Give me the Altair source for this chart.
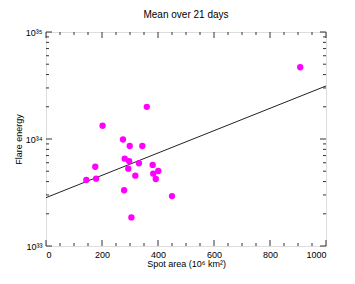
import altair as alt
import pandas as pd

# Data
spot_area = [360, 202, 275, 299, 344, 281, 297, 332, 381, 176, 294,
             401, 383, 319, 144, 179, 392, 279, 450, 305, 908]
flare_energy = [2.0e34, 1.33e34, 9.9e33, 8.6e33, 8.6e33, 6.55e33, 6.2e33,
                5.93e33, 5.72e33, 5.5e33, 5.28e33, 5.02e33, 4.74e33, 4.54e33,
                4.14e33, 4.26e33, 4.23e33, 3.32e33, 2.93e33, 1.85e33, 4.68e34]
fit_x = [0, 1000]
fit_y = [2.83e33, 3.13e34]

x_major = [0, 200, 400, 600, 800, 1000]
x_minor = [v for v in range(50, 1000, 50) if v % 200 != 0]
y_major = [1e33, 1e34, 1e35]
y_minor = [m * 1e33 for m in range(2, 10)] + [m * 1e34 for m in range(2, 10)]

pts = pd.DataFrame({"x": spot_area, "y": flare_energy})
fit = pd.DataFrame({"x": fit_x, "y": fit_y})

W, H = 280, 214
FONT = "Liberation Sans"
TICK = "#333"
xscale = alt.Scale(domain=[0, 1000], nice=False)
yscale = alt.Scale(type="log", domain=[1e33, 1e35], nice=False)

label_x = alt.Axis(orient="bottom", values=x_major, ticks=False, domain=False,
                   grid=False, labelFont=FONT, labelFontSize=9, labelColor="#000",
                   labelPadding=4, format="d", title="Spot area (10⁶ km²)", titleFont=FONT,
                   titleFontSize=9, titleFontWeight="normal", titleColor="#000",
                   titleY=20, titleBaseline="alphabetic")
label_y = alt.Axis(orient="left", values=y_major, ticks=False, domain=False,
                   grid=False, labelFont=FONT, labelFontSize=9, labelColor="#000",
                   labelPadding=4,
                   labelExpr="'10' + (datum.value > 5e34 ? '³⁵' : datum.value > 5e33 ? '³⁴' : '³³')",
                   title="Flare energy", titleFont=FONT, titleFontSize=9,
                   titleFontWeight="normal", titleColor="#000", titleX=-28,
                   titleBaseline="middle")

points = alt.Chart(pts).mark_circle(color="#ff00ff", opacity=1, size=40).encode(
    x=alt.X("x:Q", scale=xscale, axis=label_x),
    y=alt.Y("y:Q", scale=yscale, axis=label_y),
)

line = alt.Chart(fit).mark_line(color="#222", strokeWidth=1).encode(
    x=alt.X("x:Q", scale=xscale, axis=None),
    y=alt.Y("y:Q", scale=yscale, axis=None),
)


def xticks(values, size):
    df = pd.DataFrame({"v": values})
    base = alt.Chart(df).mark_rule(color=TICK, strokeWidth=1)
    bottom = base.encode(x=alt.X("v:Q", scale=xscale, axis=None),
                         y=alt.value(H), y2=alt.value(H - size))
    top = base.encode(x=alt.X("v:Q", scale=xscale, axis=None),
                      y=alt.value(0), y2=alt.value(size))
    return [bottom, top]


def yticks(values, size):
    df = pd.DataFrame({"v": values})
    base = alt.Chart(df).mark_rule(color=TICK, strokeWidth=1)
    left = base.encode(y=alt.Y("v:Q", scale=yscale, axis=None),
                       x=alt.value(0), x2=alt.value(size))
    right = base.encode(y=alt.Y("v:Q", scale=yscale, axis=None),
                        x=alt.value(W), x2=alt.value(W - size))
    return [left, right]


tick_layers = xticks(x_major, 6) + xticks(x_minor, 3) + yticks(y_major, 6) + yticks(y_minor, 3)

chart = alt.layer(*tick_layers, line, points).resolve_axis(
    x="independent", y="independent"
).properties(
    width=W, height=H,
    title=alt.Title("Mean over 21 days", font=FONT, fontSize=10,
                    fontWeight="normal", color="#000", offset=8),
    autosize=alt.AutoSizeParams(type="none"),
    padding={"left": 38, "top": 24, "right": 21, "bottom": 30},
).configure_view(stroke="#222", strokeWidth=1).configure(background="white")

chart.save("out.html", embed_options={"renderer": "svg", "actions": False})
